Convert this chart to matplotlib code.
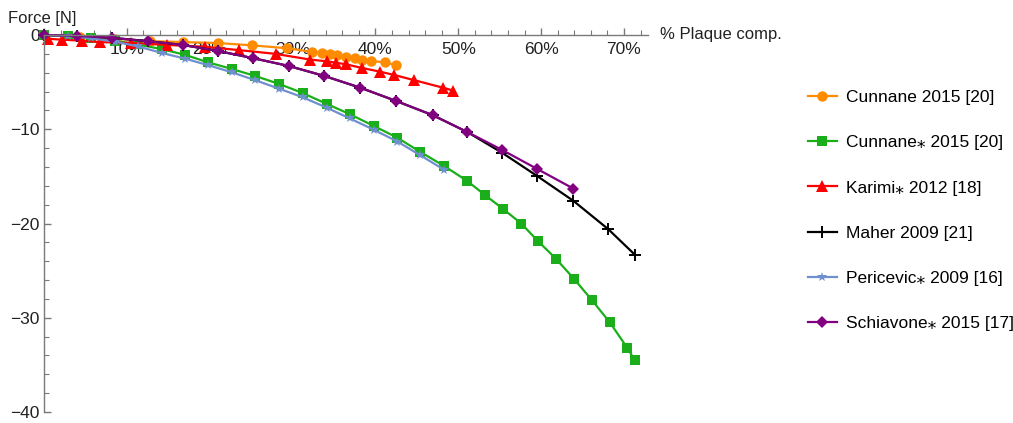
import matplotlib
matplotlib.use('Agg')
import matplotlib.pyplot as plt
from matplotlib.ticker import MultipleLocator, FuncFormatter

# values (x in % plaque compression, y in N)
cun_x = [0, 4.3, 8.55, 12.8, 16.75, 21.0, 25.1, 29.3, 32.4, 33.5, 34.5, 35.4,
         36.5, 37.5, 38.4, 39.5, 41.1, 42.5]
cun_y = [0, -0.2, -0.4, -0.65, -0.75, -0.85, -1.1, -1.4, -1.8, -1.9, -2.0, -2.1,
         -2.3, -2.45, -2.65, -2.75, -2.9, -3.2]

cuns_x = [0, 2.9, 5.7, 8.55, 11.3, 14.2, 17.0, 19.8, 22.65, 25.5, 28.4, 31.2,
          34.1, 36.9, 39.8, 42.65, 45.4, 48.3, 51.1, 53.25, 55.4, 57.6, 59.6,
          61.8, 64.0, 66.1, 68.3, 70.4, 71.3]
cuns_y = [0, -0.1, -0.3, -0.6, -1.0, -1.5, -2.1, -2.9, -3.6, -4.35, -5.2, -6.15,
          -7.3, -8.4, -9.65, -10.9, -12.4, -13.9, -15.5, -17.0, -18.45, -20.0,
          -21.85, -23.75, -25.9, -28.1, -30.5, -33.2, -34.5]

kar_x = [0.5, 2.2, 4.6, 6.7, 10.5, 14.9, 19.4, 23.5, 27.95, 32.05, 34.2, 35.3,
         36.4, 38.4, 40.6, 42.3, 44.7, 48.2, 49.4]
kar_y = [-0.4, -0.5, -0.6, -0.75, -0.85, -1.05, -1.25, -1.6, -2.0, -2.6, -2.8,
         -2.95, -3.1, -3.5, -3.9, -4.25, -4.8, -5.6, -5.9]

mah_x = [0, 4.0, 8.2, 12.5, 16.75, 21.0, 25.2, 29.6, 33.85, 38.2, 42.5, 46.9,
         51.1, 55.3, 59.5, 63.9, 68.1, 71.3]
mah_y = [0, -0.1, -0.3, -0.65, -1.05, -1.7, -2.45, -3.3, -4.35, -5.6, -7.0, -8.5,
         -10.3, -12.5, -14.95, -17.6, -20.6, -23.3]

per_x = [0, 2.9, 5.7, 8.55, 11.3, 14.2, 17.0, 19.8, 22.65, 25.5, 28.4, 31.2,
         34.1, 36.9, 39.8, 42.65, 45.4, 48.3]
per_y = [0, -0.1, -0.35, -0.7, -1.2, -1.9, -2.5, -3.2, -3.95, -4.8, -5.7, -6.6,
         -7.7, -8.85, -10.05, -11.3, -12.75, -14.3]

sch_x = [0, 4.0, 8.2, 12.5, 16.75, 21.0, 25.2, 29.6, 33.85, 38.2, 42.5, 46.9,
         51.1, 55.3, 59.5, 63.9]
sch_y = [0, -0.1, -0.3, -0.65, -1.05, -1.7, -2.45, -3.3, -4.35, -5.6, -7.0, -8.5,
         -10.3, -12.2, -14.2, -16.3]

labels = ['Cunnane 2015 [20]', 'Cunnane\u204e 2015 [20]', 'Karimi\u204e 2012 [18]',
          'Maher 2009 [21]', 'Pericevic\u204e 2009 [16]', 'Schiavone\u204e 2015 [17]']

plt.rcParams['font.family'] = ['Liberation Sans', 'DejaVu Sans']
plt.rcParams['font.size'] = 12

fig = plt.figure(figsize=(10.13, 4.23), dpi=100)
ax = fig.add_axes([44/1013, 1 - 412/423, (648 - 44)/1013, (412 - 35)/423])

ax.plot(cun_x, cun_y, color='#ff8c00', lw=1.6, marker='o', ms=7.5, mew=0, label=labels[0], clip_on=False)
ax.plot(cuns_x, cuns_y, color='#1aaf1a', lw=1.6, marker='s', ms=6.5, mew=0, label=labels[1], clip_on=False)
ax.plot(kar_x, kar_y, color='#ff0000', lw=1.6, marker='^', ms=8, mew=0, label=labels[2], clip_on=False)
ax.plot(mah_x, mah_y, color='black', lw=1.6, marker='+', ms=9, mew=1.4, label=labels[3], clip_on=False)
ax.plot(per_x, per_y, color='#6f8fcf', lw=1.6, marker='*', ms=7, mew=0, label=labels[4], clip_on=False)
ax.plot(sch_x, sch_y, color='#800080', lw=1.6, marker='D', ms=6, mew=0, label=labels[5], clip_on=False)

ax.set_xlim(0, 72.9)
ax.set_ylim(-40, 0)

axis_col = '#7a7a7a'
ax.spines['top'].set_visible(False)
ax.spines['right'].set_visible(False)
ax.spines['bottom'].set_position(('data', 0))
ax.spines['left'].set_position(('data', 0))
for s in ('bottom', 'left'):
    ax.spines[s].set_color(axis_col)
    ax.spines[s].set_linewidth(1.0)

ax.xaxis.set_major_locator(MultipleLocator(10))
ax.xaxis.set_minor_locator(MultipleLocator(2))
ax.yaxis.set_major_locator(MultipleLocator(10))
ax.yaxis.set_minor_locator(MultipleLocator(2))
ax.xaxis.set_major_formatter(FuncFormatter(lambda v, p: '' if v == 0 else '%d%%' % v))
ax.yaxis.set_major_formatter(FuncFormatter(lambda v, p: '%d' % v if v == 0 else '\u2212%d' % abs(v)))

ax.tick_params(axis='both', which='both', direction='in', color=axis_col, labelcolor='#222222')
ax.tick_params(axis='both', which='major', length=5, width=1.0, labelsize=12.5)
ax.tick_params(axis='both', which='minor', length=3.5, width=0.8)
ax.tick_params(axis='x', which='major', pad=5)
ax.tick_params(axis='y', which='major', pad=3)

fig.text(8/1013, 1 - 18/423, 'Force [N]', fontsize=12, color='#222222', va='center', ha='left')
fig.text(660/1013, 1 - 35/423, '% Plaque comp.', fontsize=12, color='#222222', va='center', ha='left')

fig.legend(loc='upper left', bbox_to_anchor=(808/1013, 1 - 90/423), frameon=False,
           borderpad=0, borderaxespad=0, labelspacing=1.73, handlelength=1.65,
           handletextpad=0.55, numpoints=1, fontsize=12.5)

fig.savefig('out.png', dpi=100)
